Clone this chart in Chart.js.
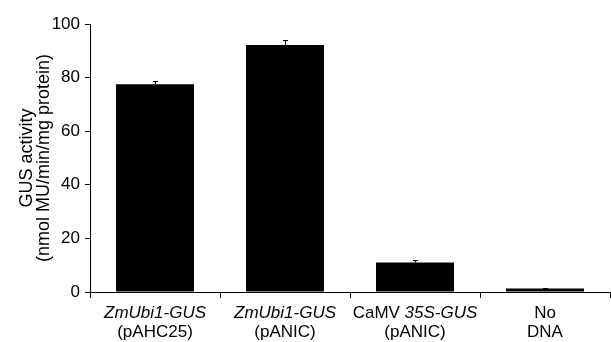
<!DOCTYPE html>
<html>
<head>
<meta charset="utf-8">
<script src="https://cdn.jsdelivr.net/npm/chart.js@4"></script>
<style>
  html, body { margin: 0; padding: 0; background: #fff; }
  #wrap { width: 611px; height: 342px; }
</style>
</head>
<body>
<div id="wrap"><canvas id="gusChart" width="611" height="342"></canvas></div>
<script>
// ---- dados ----
// *texto* = itálico
const labelLine1 = ['*ZmUbi1-GUS*', '*ZmUbi1-GUS*', 'CaMV *35S-GUS*', 'No'];
const labelLine2 = ['(pAHC25)', '(pANIC)', '(pANIC)', 'DNA'];
const gusActivity = [77.5, 92.2, 11.0, 1.3];
const gusError = [1.3, 1.8, 0.8, 0.2];
const yTicks = [0, 20, 40, 60, 80, 100];
const yTitle = ['GUS activity', '(nmol MU/min/mg protein)'];

const FONTE = "'Liberation Sans', Arial, sans-serif";

// quebra "CaMV *35S-GUS*" em pedaços normal/itálico
function partes(txt) {
    return txt.split('*').map((t, i) => ({ t: t, it: i % 2 === 1 })).filter(p => p.t.length);
}

function desenhaLinha(ctx, txt, cx, cy, size) {
    const segs = partes(txt);
    let total = 0;
    segs.forEach(s => {
        ctx.font = (s.it ? 'italic ' : '') + size + 'px ' + FONTE;
        s.w = ctx.measureText(s.t).width;
        total += s.w;
    });
    let x = cx - total / 2;
    segs.forEach(s => {
        ctx.font = (s.it ? 'italic ' : '') + size + 'px ' + FONTE;
        ctx.fillText(s.t, x, cy);
        x += s.w;
    });
}

// rótulos do eixo x em duas linhas, com itálico misto
const rotulosX = {
    id: 'rotulosX',
    afterDraw(chart) {
        const ctx = chart.ctx;
        const xs = chart.scales.x;
        ctx.save();
        ctx.fillStyle = '#000';
        ctx.textAlign = 'left';
        ctx.textBaseline = 'middle';
        labelLine1.forEach((l1, i) => {
            const cx = xs.getPixelForValue(i);
            desenhaLinha(ctx, l1, cx, xs.top + 21, 17);
            desenhaLinha(ctx, labelLine2[i], cx, xs.top + 40, 17);
        });
        ctx.restore();
    }
};

// barras de erro (só a parte de cima aparece)
const barrasErro = {
    id: 'barrasErro',
    afterDatasetsDraw(chart) {
        const ctx = chart.ctx;
        const ys = chart.scales.y;
        const meta = chart.getDatasetMeta(0);
        ctx.save();
        ctx.strokeStyle = '#000';
        ctx.lineWidth = 1;
        meta.data.forEach((bar, i) => {
            const v = gusActivity[i];
            const e = gusError[i];
            const yTop = ys.getPixelForValue(v + e);
            const yBar = ys.getPixelForValue(v);
            const x = Math.round(bar.x) + 0.5;
            ctx.beginPath();
            ctx.moveTo(x, yBar);
            ctx.lineTo(x, Math.round(yTop) + 0.5);
            ctx.moveTo(x - 2.5, Math.round(yTop) + 0.5);
            ctx.lineTo(x + 2.5, Math.round(yTop) + 0.5);
            ctx.stroke();
        });
        ctx.restore();
    }
};

Chart.defaults.font.family = FONTE;
Chart.defaults.color = '#000';

new Chart(document.getElementById('gusChart').getContext('2d'), {
    type: 'bar',
    data: {
        labels: labelLine1.map((l, i) => l.replace(/\*/g, '') + ' ' + labelLine2[i]),
        datasets: [{
            data: gusActivity,
            backgroundColor: '#000',
            borderWidth: 0,
            barPercentage: 0.6,
            categoryPercentage: 1.0
        }]
    },
    options: {
        responsive: false,
        animation: false,
        devicePixelRatio: 1,
        layout: { padding: { top: 24, right: 1, left: 0, bottom: 0 } },
        plugins: {
            legend: { display: false },
            tooltip: { enabled: false }
        },
        scales: {
            x: {
                offset: true,
                grid: {
                    offset: true,
                    drawOnChartArea: false,
                    drawTicks: true,
                    tickLength: 6,
                    color: '#000'
                },
                border: { display: true, color: '#000', width: 1 },
                ticks: { display: false },
                afterFit(scale) { scale.height = 50; }
            },
            y: {
                min: 0,
                max: 100,
                afterBuildTicks(scale) { scale.ticks = yTicks.map(v => ({ value: v })); },
                grid: {
                    drawOnChartArea: false,
                    drawTicks: true,
                    tickLength: 5,
                    color: '#000'
                },
                border: { display: true, color: '#000', width: 1 },
                ticks: { font: { size: 17 }, color: '#000', padding: 5 },
                title: {
                    display: true,
                    text: yTitle,
                    color: '#000',
                    font: { size: 18, lineHeight: 0.95 },
                    padding: { top: 18, bottom: 0 }
                },
                afterFit(scale) { scale.width = 90; }
            }
        }
    },
    plugins: [rotulosX, barrasErro]
});
</script>
</body>
</html>
